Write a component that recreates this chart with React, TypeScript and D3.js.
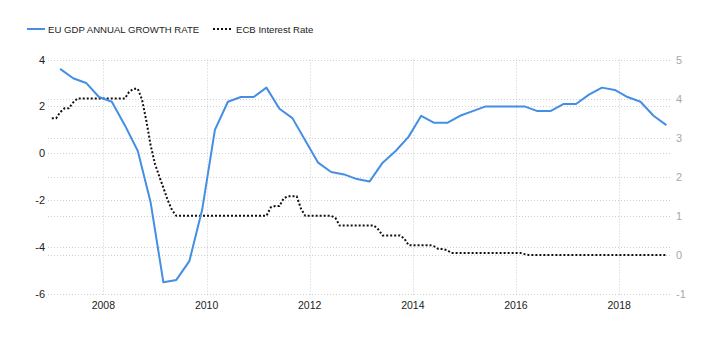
import { useEffect, useRef } from "react";
import * as d3 from "d3";

// EU GDP annual growth rate, quarterly, 2007 Q1 .. 2018 Q4 (plotted at the quarter's last month)
const gdpStartYear = 2007;
const gdpGrowth = [
  3.6, 3.2, 3.0, 2.4,
  2.2, 1.2, 0.1, -2.1,
  -5.5, -5.4, -4.6, -2.4,
  1.0, 2.2, 2.4, 2.4,
  2.8, 1.9, 1.5, 0.55,
  -0.4, -0.8, -0.9, -1.1,
  -1.2, -0.4, 0.1, 0.7,
  1.6, 1.3, 1.3, 1.6,
  1.8, 2.0, 2.0, 2.0,
  2.0, 1.8, 1.8, 2.1,
  2.1, 2.5, 2.8, 2.7,
  2.4, 2.2, 1.6, 1.2,
];

// ECB interest rate, monthly, Jan 2007 .. Dec 2018
const ecbStartYear = 2007;
const ecbRate = [
  3.5, 3.5, 3.65, 3.75, 3.75, 3.9, 4, 4, 4, 4, 4, 4,
  4, 4, 4, 4, 4, 4, 4.17, 4.25, 4.25, 3.97, 3.42, 2.8,
  2.32, 2, 1.72, 1.4, 1.15, 1, 1, 1, 1, 1, 1, 1,
  1, 1, 1, 1, 1, 1, 1, 1, 1, 1, 1, 1,
  1, 1, 1, 1.22, 1.25, 1.25, 1.45, 1.5, 1.5, 1.5, 1.18, 1,
  1, 1, 1, 1, 1, 1, 0.95, 0.75, 0.75, 0.75, 0.75, 0.75,
  0.75, 0.75, 0.75, 0.75, 0.65, 0.5, 0.5, 0.5, 0.5, 0.5, 0.42, 0.25,
  0.25, 0.25, 0.25, 0.25, 0.25, 0.22, 0.15, 0.15, 0.12, 0.05, 0.05, 0.05,
  0.05, 0.05, 0.05, 0.05, 0.05, 0.05, 0.05, 0.05, 0.05, 0.05, 0.05, 0.05,
  0.05, 0.05, 0.02, 0, 0, 0, 0, 0, 0, 0, 0, 0,
  0, 0, 0, 0, 0, 0, 0, 0, 0, 0, 0, 0,
  0, 0, 0, 0, 0, 0, 0, 0, 0, 0, 0, 0,
];

const yearTicks = [2008, 2010, 2012, 2014, 2016, 2018];
const leftTicks = [4, 2, 0, -2, -4, -6];
const rightTicks = [5, 4, 3, 2, 1, 0, -1];

const gdpLabel = "EU GDP ANNUAL GROWTH RATE";
const ecbLabel = "ECB Interest Rate";

const BLUE = "#448ee4";
const FONT = "'Liberation Sans', Arial, sans-serif";

interface Point {
  date: Date;
  value: number;
}

const App = () => {
  const svgRef = useRef<SVGSVGElement | null>(null);

  useEffect(() => {
    const svg = d3.select(svgRef.current);
    svg.selectAll("*").remove();

    const width = 718;
    const height = 351;
    const left = 48;
    const right = 672;
    const top = 59.5;
    const bottom = 294;

    const x = d3
      .scaleTime()
      .domain([new Date(2006, 11, 5), new Date(2019, 0, 10)])
      .range([left, right]);
    const yL = d3.scaleLinear().domain([-6, 4]).range([bottom, top]);
    const yR = d3.scaleLinear().domain([-1, 5]).range([bottom, top]);

    const gdp: Point[] = gdpGrowth.map((v, i) => ({
      date: new Date(gdpStartYear + Math.floor(i / 4), (i % 4) * 3 + 2, 1),
      value: v,
    }));
    const ecb: Point[] = ecbRate.map((v, i) => ({
      date: new Date(ecbStartYear + Math.floor(i / 12), i % 12, 1),
      value: v,
    }));

    svg.attr("width", width).attr("height", height);

    const grid = svg.append("g").attr("stroke", "#cfcfcf").attr("stroke-width", 1).attr("stroke-dasharray", "1,2");
    const hLines = [...leftTicks.map((t) => yL(t)), ...rightTicks.map((t) => yR(t))];
    grid
      .selectAll("line.h")
      .data(hLines)
      .join("line")
      .attr("x1", left)
      .attr("x2", right)
      .attr("y1", (d) => Math.round(d) + 0.5)
      .attr("y2", (d) => Math.round(d) + 0.5);
    grid
      .selectAll("line.v")
      .data(yearTicks)
      .join("line")
      .attr("x1", (d) => Math.round(x(new Date(d, 0, 1))) + 0.5)
      .attr("x2", (d) => Math.round(x(new Date(d, 0, 1))) + 0.5)
      .attr("y1", top)
      .attr("y2", bottom + 1);

    // axes labels
    svg
      .append("g")
      .selectAll("text")
      .data(leftTicks)
      .join("text")
      .attr("x", 45)
      .attr("y", (d) => yL(d) + 4)
      .attr("text-anchor", "end")
      .attr("font-family", FONT)
      .attr("font-size", 11)
      .attr("fill", "#222")
      .text((d) => d);

    svg
      .append("g")
      .selectAll("text")
      .data(rightTicks)
      .join("text")
      .attr("x", 676)
      .attr("y", (d) => yR(d) + 4)
      .attr("font-family", FONT)
      .attr("font-size", 11)
      .attr("fill", "#a8a8a8")
      .text((d) => d);

    svg
      .append("g")
      .selectAll("text")
      .data(yearTicks)
      .join("text")
      .attr("x", (d) => x(new Date(d, 0, 1)))
      .attr("y", 309)
      .attr("text-anchor", "middle")
      .attr("font-family", FONT)
      .attr("font-size", 10.5)
      .attr("fill", "#222")
      .text((d) => d);

    // series
    const ecbLine = d3
      .line<Point>()
      .x((d) => x(d.date))
      .y((d) => yR(d.value));
    svg
      .append("path")
      .datum(ecb)
      .attr("d", ecbLine)
      .attr("fill", "none")
      .attr("stroke", "#111")
      .attr("stroke-width", 2)
      .attr("stroke-dasharray", "2,2");

    const gdpLine = d3
      .line<Point>()
      .x((d) => x(d.date))
      .y((d) => yL(d.value));
    svg
      .append("path")
      .datum(gdp)
      .attr("d", gdpLine)
      .attr("fill", "none")
      .attr("stroke", BLUE)
      .attr("stroke-width", 2)
      .attr("stroke-linejoin", "round");

    // legend
    const legend = svg.append("g").attr("font-family", FONT).attr("font-size", 9.6).attr("fill", "#222");
    legend.append("line").attr("x1", 27).attr("x2", 45).attr("y1", 29).attr("y2", 29).attr("stroke", BLUE).attr("stroke-width", 2);
    legend.append("text").attr("x", 48).attr("y", 33).text(gdpLabel);
    legend
      .append("line")
      .attr("x1", 213)
      .attr("x2", 232)
      .attr("y1", 29)
      .attr("y2", 29)
      .attr("stroke", "#111")
      .attr("stroke-width", 2)
      .attr("stroke-dasharray", "2,2");
    legend.append("text").attr("x", 236).attr("y", 33).text(ecbLabel);
  }, []);

  return (
    <div style={{ position: "absolute", left: 0, top: 0, background: "#fff" }}>
      <svg ref={svgRef} width={718} height={351} style={{ display: "block" }}></svg>
    </div>
  );
};

export default App;
